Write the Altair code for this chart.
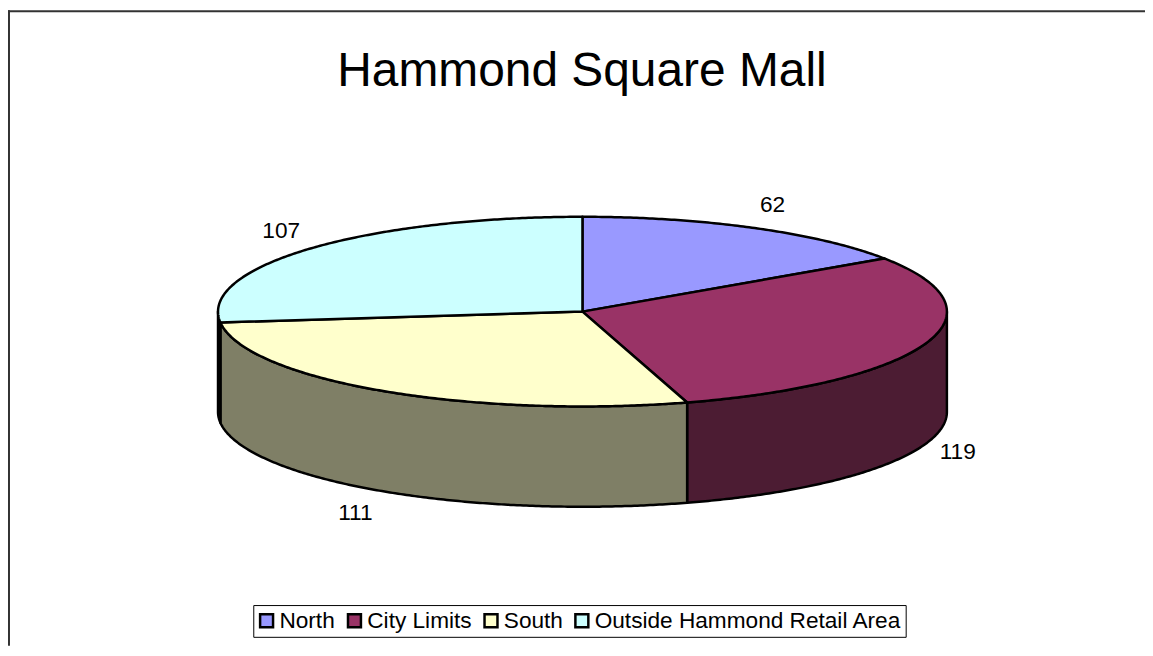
import math
import altair as alt
import pandas as pd

names = ["North", "City Limits", "South", "Outside Hammond Retail Area"]
values = [62, 119, 111, 107]
top_colors = ["#9999FF", "#993366", "#FFFFCC", "#CCFFFF"]
side_colors = ["#4C4C7F", "#4C1C33", "#7F7F66", "#667F7F"]
title_text = "Hammond Square Mall"

W, H = 1145, 640
CX, CY = 578.5, 303.5
RX, RY = 367, 95.5
DEPTH = 101
FONT = "Liberation Sans"
LABEL_SIZE = 22.8
LINE = 2.5


def pt(deg, drop=0.0):
    a = math.radians(deg)
    return [CX + RX * math.sin(a), CY - RY * math.cos(a) + drop]


def arc(a0, a1, drop=0.0):
    n = max(2, int(abs(a1 - a0) * 2) + 1)
    return [pt(a0 + (a1 - a0) * i / (n - 1), drop) for i in range(n)]


total = sum(values)
tops, sides, labels = [], [], []
cum = 0
for name, v, tc, sc in zip(names, values, top_colors, side_colors):
    a0 = cum / total * 360
    cum += v
    a1 = cum / total * 360
    ring = [[CX, CY]] + arc(a0, a1) + [[CX, CY]]
    tops.append({"type": "Feature", "properties": {"name": name},
                 "geometry": {"type": "Polygon", "coordinates": [ring]}})
    s0, s1 = max(a0, 90), min(a1, 270)
    if s1 > s0:
        ring = arc(s0, s1) + arc(s1, s0, DEPTH)
        ring.append(ring[0])
        sides.append({"type": "Feature", "properties": {"fill": sc},
                      "geometry": {"type": "Polygon", "coordinates": [ring]}})
    mid = math.radians((a0 + a1) / 2)
    half = len(str(v)) * 0.556 * LABEL_SIZE / 2
    sx, cy_ = math.sin(mid), math.cos(mid)
    labels.append({"label": str(v),
                   "px": CX + 381 * sx + math.copysign(half, sx),
                   "py": CY - 121.5 * cy_ + (DEPTH if cy_ < 0 else 0)})

proj = dict(type="identity", scale=1, translate=[0, 0])

side_layer = alt.Chart(alt.Data(values=sides)).mark_geoshape(
    stroke="black", strokeWidth=LINE, strokeJoin="round"
).encode(fill=alt.Fill("properties.fill:N", scale=None)).project(**proj)

top_layer = alt.Chart(alt.Data(values=tops)).mark_geoshape(
    stroke="black", strokeWidth=LINE, strokeJoin="round"
).encode(
    fill=alt.Fill(
        "properties.name:N",
        sort=names,
        scale=alt.Scale(domain=names, range=top_colors),
        legend=alt.Legend(
            title=None, orient="none", legendX=247, legendY=599,
            direction="horizontal", columns=4, columnPadding=6.5,
            fillColor="white", strokeColor="black", padding=4,
            symbolType="square", symbolSize=170, symbolStrokeColor="black",
            symbolStrokeWidth=2.5, symbolOpacity=1, symbolOffset=-2,
            labelFont=FONT, labelFontSize=LABEL_SIZE, labelColor="black",
            labelLimit=400, labelOffset=1.5,
        ),
    )
).project(**proj)

px = alt.X("px:Q", scale=alt.Scale(domain=[0, W], range=[0, W]), axis=None)
py = alt.Y("py:Q", scale=alt.Scale(domain=[0, H], range=[0, H]), axis=None)
label_layer = alt.Chart(pd.DataFrame(labels)).mark_text(
    font=FONT, fontSize=LABEL_SIZE, color="black", align="center", baseline="middle"
).encode(x=px, y=py, text="label:N")

frame_top = alt.Chart().mark_rule(color="#333333", strokeWidth=2).encode(
    x=alt.value(0), x2=alt.value(W), y=alt.value(1))
frame_left = alt.Chart().mark_rule(color="#333333", strokeWidth=2).encode(
    y=alt.value(0), y2=alt.value(H), x=alt.value(1))

chart = alt.layer(side_layer, top_layer, label_layer, frame_top, frame_left).resolve_scale(
    fill="independent"
).properties(
    width=W, height=H, padding=0, background="white",
    autosize=alt.AutoSizeParams(type="none"),
    title=alt.TitleParams(
        title_text, font=FONT, fontSize=48.2, fontWeight="normal", color="black",
        anchor="middle", frame="group", dx=5.5, dy=125, offset=0, baseline="alphabetic",
    ),
).configure_view(stroke=None)

chart.save("out.html", embed_options={"renderer": "svg", "actions": False})
